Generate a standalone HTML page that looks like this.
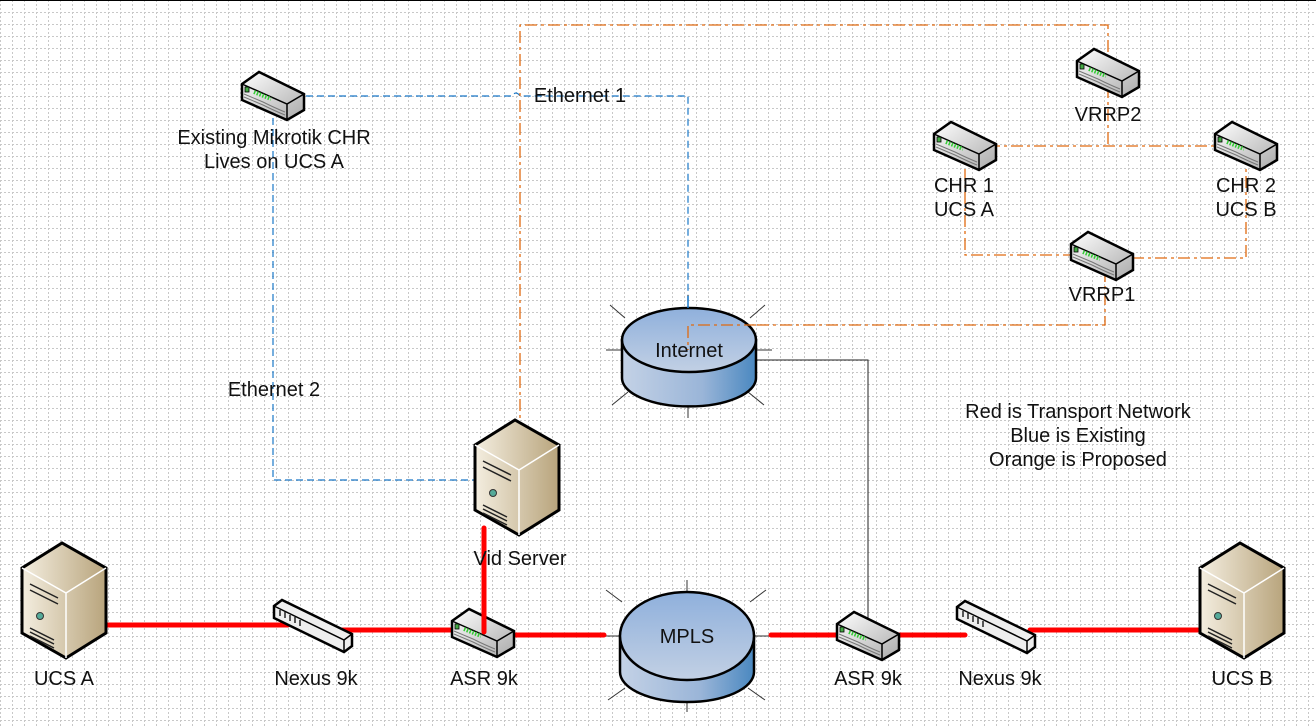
<!DOCTYPE html>
<html><head><meta charset="utf-8"><style>
html,body{margin:0;padding:0;background:#fff}
svg{display:block}
text{font-family:"Liberation Sans",sans-serif;font-size:20px;fill:#111}
</style></head><body>
<svg width="1316" height="727" viewBox="0 0 1316 727" xmlns="http://www.w3.org/2000/svg">
<defs>
<pattern id="g" width="12" height="12" patternUnits="userSpaceOnUse">
<path d="M0 0.5H12M0.5 0V12" stroke="#c8c8c8" stroke-width="1" stroke-dasharray="2,2" fill="none"/>
</pattern>
<linearGradient id="rt" x1="0" y1="0" x2="1" y2="1"><stop offset="0" stop-color="#fff"/><stop offset="1" stop-color="#aaa"/></linearGradient>
<linearGradient id="sv" x1="0" y1="0" x2="1" y2="0"><stop offset="0" stop-color="#f4eee0"/><stop offset="1" stop-color="#b8a47c"/></linearGradient>
<linearGradient id="cyl" x1="0" y1="0" x2="1" y2="0"><stop offset="0" stop-color="#c4d2e6"/><stop offset="0.6" stop-color="#9ab5d8"/><stop offset="1" stop-color="#4a88c0"/></linearGradient>
<linearGradient id="cyt" x1="0" y1="0" x2="0" y2="1"><stop offset="0" stop-color="#8fb0dc"/><stop offset="1" stop-color="#c2d0e4"/></linearGradient>
<g id="router">
<path d="M-31,-12 L-14,-24 L31,-2 L31,14 L14,24 L-31,4 Z" fill="url(#rt)" stroke="#000" stroke-width="2.5"/>
<path d="M-31,-12 L14,8 L31,-2 M14,8 L14,24" fill="none" stroke="#000" stroke-width="1.5"/>
<path d="M-29,-2 L-10,6 Q2,12 12,16 M-29,1 L-10,9 Q2,15 12,19" fill="none" stroke="#777" stroke-width="1"/>
<rect x="-28" y="-9" width="4" height="5" fill="#4a4" stroke="#000" stroke-width="0.8"/>
<path d="M-19,-4 L-2,3" stroke="#3c3" stroke-width="4" stroke-dasharray="1.5,1.5"/>
</g>
<g id="server">
<path d="M-42,-30 L-2,-55 L42,-30 L42,35 L2,60 L-42,35 Z" fill="url(#sv)" stroke="#000" stroke-width="3"/>
<path d="M-42,-30 L2,-5 L42,-30 M2,-5 L2,60" fill="none" stroke="#fff" stroke-width="1.5"/>
<path d="M-34,-14 L-6,0 M-34,-8 L-6,6 M-34,30 L-10,42 M-34,34 L-10,46 M-34,38 L-10,50" stroke="#222" stroke-width="1.5"/>
<circle cx="-24" cy="18" r="3.5" fill="#5a9" stroke="#333"/>
</g>
<g id="switch">
<path d="M-38,-18 L-30,-24 L40,10 L40,22 L32,28 L-38,-6 Z" fill="#eee" stroke="#000" stroke-width="2.5"/>
<path d="M-38,-18 L32,16 L40,10 M32,16 L32,28" fill="none" stroke="#000" stroke-width="1.5"/>
<path d="M-32,-14 L-32,-8 M-27,-12 L-27,-6 M-22,-9 L-22,-3 M-17,-7 L-17,-1 M-12,-4 L-12,2" stroke="#222" stroke-width="1.5"/>
</g>
</defs>
<rect width="1316" height="727" fill="url(#g)"/>
<line x1="0" y1="0.5" x2="1316" y2="0.5" stroke="#000"/>

<path d="M273,96 H512 Q516,90 520,96 H688 V307 M273,96 V480 H478" fill="none" stroke="#1a78c8" stroke-width="1.2" stroke-dasharray="7,4"/>
<g fill="none" stroke="#e06a10" stroke-width="1.3" stroke-dasharray="12,4,3,4">
<path d="M520,480 V25 H1108 V146"/>
<path d="M965,146 H1246"/>
<path d="M965,146 V255 H1075"/>
<path d="M1132,258 H1246 V146"/>
<path d="M1105,270 V325 H756"/>
</g>
<path d="M756,360 H868 V635" fill="none" stroke="#222" stroke-width="1"/>

<g stroke="#333" stroke-width="1">
<path d="M606,350 H622 M756,350 H772 M688,307 V295 M688,405 V418 M625,318 L610,305 M750,318 L765,305 M628,392 L612,405 M748,392 L764,405"/>
<path d="M604,636 H620 M754,636 H770 M687,592 V580 M687,700 V712 M622,602 L606,590 M750,602 L766,590 M625,688 L608,700 M748,688 L765,700"/>
</g>
<path d="M622,340 V378 A66,28 0 0 0 756,378 V340 Z" fill="url(#cyl)" stroke="#000" stroke-width="2.5"/>
<ellipse cx="689" cy="340" rx="67" ry="32" fill="url(#cyt)" stroke="#000" stroke-width="2.5"/>
<path d="M756,325 H688 V350" fill="none" stroke="#e06a10" stroke-width="1.3" stroke-dasharray="12,4,3,4"/>
<path d="M688,296 V308" stroke="#1a78c8" stroke-width="1.5"/>
<text x="689" y="357" text-anchor="middle">Internet</text>
<path d="M620,636 V672 A67,30 0 0 0 754,672 V636 Z" fill="url(#cyl)" stroke="#000" stroke-width="2.5"/>
<ellipse cx="687" cy="636" rx="67" ry="44" fill="url(#cyt)" stroke="#000" stroke-width="2.5"/>
<text x="687" y="643" text-anchor="middle">MPLS</text>

<g stroke="#f00" stroke-width="5" stroke-linecap="round" fill="none">
<path d="M95,625 H288"/>
<path d="M318,630 H460"/>
<path d="M515,635 H604"/>
<path d="M771,635 H840"/>
<path d="M897,635 H965"/>
<path d="M1030,630 H1198"/>
</g>

<use href="#router" x="273" y="96"/>
<use href="#router" x="1108" y="73"/>
<use href="#router" x="965" y="146"/>
<use href="#router" x="1246" y="146"/>
<use href="#router" x="1102" y="256"/>
<use href="#router" x="483" y="633"/>
<use href="#router" x="868" y="636"/>
<use href="#server" x="517" y="475"/>
<use href="#server" x="64" y="598"/>
<use href="#server" x="1242" y="598"/>
<use href="#switch" x="312" y="624"/>
<use href="#switch" x="995" y="625"/>
<path d="M484,632 V528" stroke="#f00" stroke-width="5" stroke-linecap="round"/>

<text x="274" y="144" text-anchor="middle">Existing Mikrotik CHR</text>
<text x="274" y="168" text-anchor="middle">Lives on UCS A</text>
<text x="580" y="102" text-anchor="middle">Ethernet 1</text>
<text x="274" y="396" text-anchor="middle">Ethernet 2</text>
<text x="1108" y="121" text-anchor="middle">VRRP2</text>
<text x="964" y="192" text-anchor="middle">CHR 1</text>
<text x="964" y="216" text-anchor="middle">UCS A</text>
<text x="1246" y="192" text-anchor="middle">CHR 2</text>
<text x="1246" y="216" text-anchor="middle">UCS B</text>
<text x="1102" y="301" text-anchor="middle">VRRP1</text>
<text x="1078" y="418" text-anchor="middle">Red is Transport Network</text>
<text x="1078" y="442" text-anchor="middle">Blue is Existing</text>
<text x="1078" y="466" text-anchor="middle">Orange is Proposed</text>
<text x="520" y="565" text-anchor="middle">Vid Server</text>
<text x="64" y="685" text-anchor="middle">UCS A</text>
<text x="316" y="685" text-anchor="middle">Nexus 9k</text>
<text x="484" y="685" text-anchor="middle">ASR 9k</text>
<text x="868" y="685" text-anchor="middle">ASR 9k</text>
<text x="1000" y="685" text-anchor="middle">Nexus 9k</text>
<text x="1242" y="685" text-anchor="middle">UCS B</text>
</svg>
</body></html>
